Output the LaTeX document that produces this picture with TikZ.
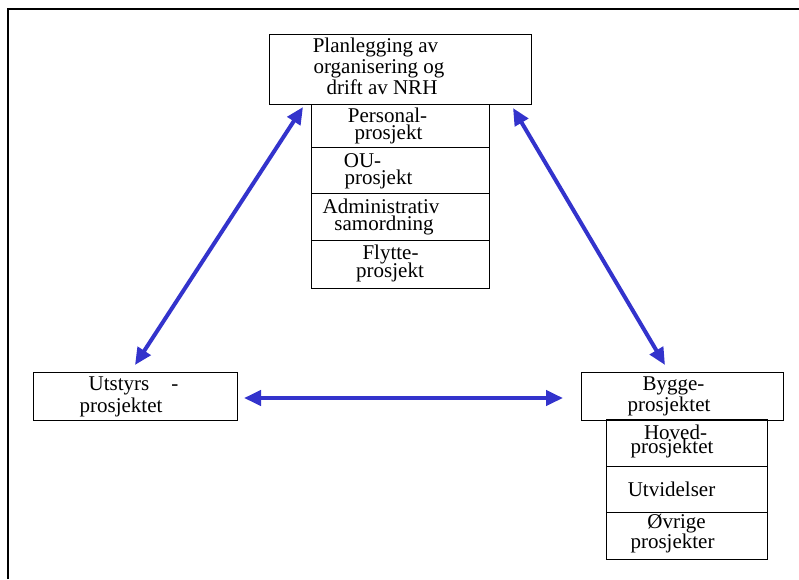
\documentclass[tikz,border=0pt]{standalone}
\usepackage{fontspec}
\setmainfont{Liberation Serif}
\usetikzlibrary{arrows.meta}
\definecolor{arrowblue}{RGB}{51,51,204}

\begin{document}
\begin{tikzpicture}[x=1pt,y=-1pt,
  box/.style={draw=black,line width=0.9pt,inner sep=0pt,outer sep=0pt,anchor=north west},
  txt/.style={anchor=base,inner sep=0pt,font=\fontsize{21}{21}\selectfont},
  link/.style={draw=arrowblue,line width=4pt,
    {Triangle[length=17pt,width=15pt]}-{Triangle[length=17pt,width=15pt]}}]
\useasboundingbox (0,0) rectangle (799,579);

% page frame (top and left edges)
\draw[line width=2pt] (8,579) -- (8,9) -- (799,9);

% planning box with its sub-projects
\node[box,minimum width=262,minimum height=70] (plan) at (269,34) {};
\node[box,minimum width=178,minimum height=43] (pers) at (311,104) {};
\node[box,minimum width=178,minimum height=46] (ou)   at (311,147) {};
\node[box,minimum width=178,minimum height=47] (adm)  at (311,193) {};
\node[box,minimum width=178,minimum height=48] (fly)  at (311,240) {};

\node[txt] (plan1) at (375.5,52) {Planlegging av};
\node[txt] (plan2) at (379,73) {organisering og};
\node[txt] (plan3) at (382,94) {drift av NRH};
\node[txt] (pers1) at (387.5,122) {Personal-};
\node[txt] (pers2) at (388.5,139) {prosjekt};
\node[txt] (ou1)   at (362.5,167) {OU-};
\node[txt] (ou2)   at (378.5,184) {prosjekt};
\node[txt] (adm1)  at (381,213) {Administrativ};
\node[txt] (adm2)  at (384,230) {samordning};
\node[txt] (fly1)  at (390.5,259) {Flytte-};
\node[txt] (fly2)  at (390,277) {prosjekt};

% equipment project
\node[box,minimum width=204,minimum height=48] (utst) at (33,372) {};
\node[txt] (utst1) at (133.5,390) {Utstyrs\hspace{22pt}-};
\node[txt] (utst2) at (121,412) {prosjektet};

% building project with its sub-projects
\node[box,minimum width=202,minimum height=48] (bygg) at (581,372) {};
\node[box,minimum width=161,minimum height=47] (hoved) at (606,419) {};
\node[box,minimum width=161,minimum height=46] (utvid) at (606,466) {};
\node[box,minimum width=161,minimum height=47] (ovrig) at (606,512) {};

\node[txt] (bygg1)  at (673.5,390) {Bygge-};
\node[txt] (bygg2)  at (669,411) {prosjektet};
\node[txt] (hoved1) at (675.5,439) {Hoved-};
\node[txt] (hoved2) at (672,453) {prosjektet};
\node[txt] (utvid1) at (671.5,496) {Utvidelser};
\node[txt] (ovrig1) at (676.5,528) {Øvrige};
\node[txt] (ovrig2) at (672.5,548) {prosjekter};

% arrow end points next to the boxes
\coordinate (planL) at (303,107);
\coordinate (planR) at (513,108);
\coordinate (utstT) at (135,365);
\coordinate (utstR) at (244,398);
\coordinate (byggT) at (665,365);
\coordinate (byggL) at (563,398);

\draw[link] (planL) -- (utstT);
\draw[link] (planR) -- (byggT);
\draw[link] (utstR) -- (byggL);
\end{tikzpicture}
\end{document}
